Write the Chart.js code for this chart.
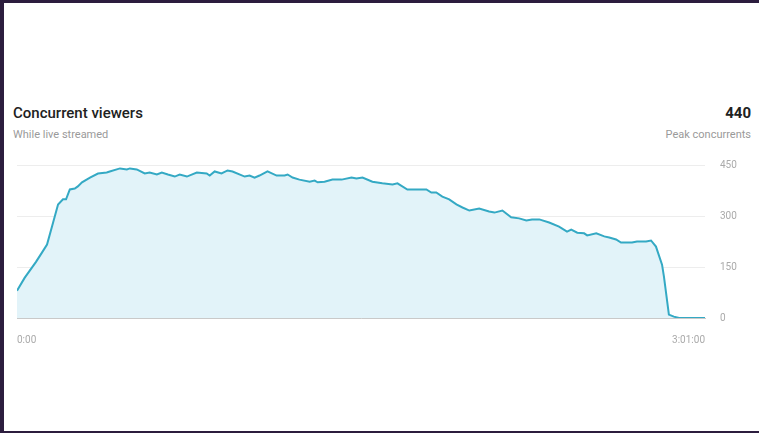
<!DOCTYPE html>
<html>
<head>
<meta charset="utf-8">
<script src="https://cdn.jsdelivr.net/npm/chart.js@4"></script>
<style>
  html, body { margin: 0; padding: 0; }
  body { width: 759px; height: 433px; background: #2c1d3e; position: relative; overflow: hidden; font-family: Roboto, "Noto Sans", sans-serif; }
  .panel { position: absolute; left: 4px; top: 3px; width: 755px; height: 428px; background: #fff; }
  .title { position: absolute; left: 13px; top: 104px; font-size: 15px; font-weight: 500; color: #212121; }
  .sub { position: absolute; left: 13px; top: 128px; font-size: 11px; color: #9a9a9a; }
  .peak { position: absolute; right: 8px; top: 104px; font-size: 15px; font-weight: 700; color: #212121; text-align: right; }
  .peak-sub { position: absolute; right: 8px; top: 128px; font-size: 11px; color: #9a9a9a; text-align: right; }
  #chartWrap { position: absolute; left: 0; top: 144px; width: 759px; height: 206px; }
</style>
</head>
<body>
<div class="panel"></div>
<div class="title">Concurrent viewers</div>
<div class="sub">While live streamed</div>
<div class="peak">440</div>
<div class="peak-sub">Peak concurrents</div>
<div id="chartWrap"><canvas id="viewersChart"></canvas></div>

<script>
// minutes since stream start
const minutes = [0, 2, 5, 6.6, 7.9, 9.5, 10.8, 12.1, 12.9, 13.9, 15.2, 16, 17.1, 19.2, 21.3, 23.6, 24.4,
  27.1, 28.9, 29.7, 31.5, 33.6, 34.9, 36.8, 38.1, 39.7, 41.5, 42.8, 44.7, 47.3, 49.9, 50.7, 52,
  53.8, 55.4, 56.7, 59.9, 61.2, 62.5, 63.8, 65.9, 68.3, 70.4, 71.2, 72.5, 74.3, 77, 78.3, 79.1,
  80.9, 83, 85.4, 88, 89.3, 90.9, 93.5, 96.1, 98.8, 100.1, 102.7, 107.7, 109, 110.3, 111.9, 113.7,
  115.6, 117.2, 119, 121.6, 124.2, 125.6, 127.7, 130, 132.1, 134, 135.5, 137.4, 140, 142.6, 144.7,
  145.8, 147.4, 149.2, 150, 152.4, 154.5, 155.8, 157.6, 158.9, 160.5, 161.8, 163.1, 165.5, 166.8,
  168.1, 169.7, 170.2, 171.5, 172.8, 174.2, 181];

const viewers = [80, 118, 165, 193, 216, 281, 334, 349, 349, 378, 381, 387, 399, 413, 425, 428, 431,
  440, 437, 440, 437, 425, 428, 422, 428, 422, 416, 422, 416, 428, 425, 419, 431,
  425, 434, 431, 416, 419, 413, 419, 431, 419, 419, 422, 413, 407, 401, 404, 399,
  401, 407, 407, 413, 410, 413, 401, 396, 393, 396, 378, 378, 369, 369, 357, 349,
  334, 325, 316, 322, 313, 310, 316, 296, 293, 287, 290, 290, 281, 269, 254,
  260, 251, 249, 243, 249, 240, 237, 231, 222, 222, 222, 225, 225, 228,
  210, 157, 122, 10, 4, 0, 0];

const xTickValues = [0, 181];
const xTickLabels = ['0:00', '3:01:00'];
const yTickValues = [0, 150, 300, 450];

const points = minutes.map((m, i) => ({ x: m, y: viewers[i] }));

const ctx = document.getElementById('viewersChart').getContext('2d');

new Chart(ctx, {
  type: 'line',
  data: {
    datasets: [{
      data: points,
      borderColor: '#34a9c4',
      backgroundColor: '#e2f3f9',
      borderWidth: 2,
      fill: 'origin',
      pointRadius: 0,
      tension: 0
    }]
  },
  options: {
    responsive: true,
    maintainAspectRatio: false,
    animation: false,
    layout: { padding: { left: 17, top: 10, right: 0, bottom: 0 } },
    plugins: {
      legend: { display: false },
      tooltip: { enabled: false }
    },
    scales: {
      x: {
        type: 'linear',
        min: 0,
        max: 181,
        grid: { display: false },
        border: { display: true, color: '#c9c9c9', width: 1 },
        afterBuildTicks: scale => { scale.ticks = xTickValues.map(v => ({ value: v })); },
        afterFit: scale => { scale.height = 32; },
        ticks: {
          align: 'inner',
          maxRotation: 0,
          padding: 8,
          color: '#aaaaaa',
          font: { family: 'Roboto', size: 10 },
          callback: (value) => xTickLabels[xTickValues.indexOf(value)]
        }
      },
      y: {
        position: 'right',
        min: 0,
        max: 450,
        grid: { color: '#ededed', drawTicks: false },
        border: { display: false },
        afterBuildTicks: scale => { scale.ticks = yTickValues.map(v => ({ value: v })); },
        afterFit: scale => { scale.width = 54; },
        ticks: {
          padding: 15,
          color: '#aaaaaa',
          font: { family: 'Roboto', size: 10 }
        }
      }
    }
  }
});
</script>
</body>
</html>
